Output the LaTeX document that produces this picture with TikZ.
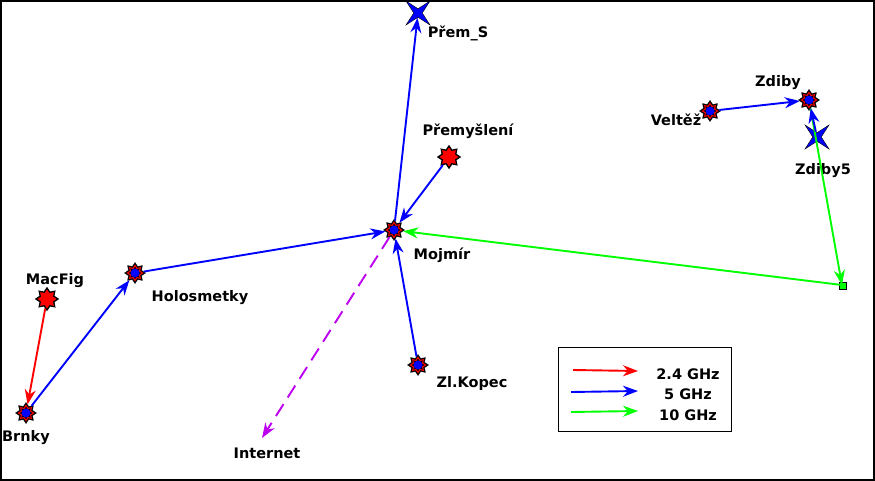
\documentclass[tikz,border=0pt]{standalone}
\usepackage{fontspec}
\setmainfont{DejaVu Sans}
\usetikzlibrary{shapes.geometric,arrows.meta}
% Uzly site
\newcommand{\router}[2]{%
  \node[star, star points=8, star point ratio=1.5, draw=black, fill=black, minimum size=21pt, inner sep=0pt] (#1) at #2 {};
  \node[star, star points=8, star point ratio=1.5, draw=red, line width=1pt, fill=black, minimum size=15pt, inner sep=0pt] at #2 {};
  \fill[blue] #2 circle (4.5pt);}
\newcommand{\vysilac}[2]{%
  \node[star, star points=8, star point ratio=1.5, draw=black, line width=1.3pt, fill=red, minimum size=22pt, inner sep=0pt] (#1) at #2 {};}
\newcommand{\smerovka}[2]{%
  \node[star, star points=4, star point ratio=4, draw=black, fill=blue, minimum size=34pt, inner sep=0pt, rotate=45] (#1) at #2 {};}
\definecolor{fialova}{RGB}{190,0,240}
\tikzset{
  lbl/.style={font=\bfseries\fontsize{14.5}{16}\selectfont},
  link/.style={-{Stealth[length=15pt,width=11pt]}, line width=1.9pt},
}
\begin{document}
\begin{tikzpicture}[x=1pt,y=-1pt]
\useasboundingbox (0,0) rectangle (875,481);
\draw[line width=2pt] (1,1) rectangle (874,480);
% Uzly
\smerovka{prems}{(418,13)}
\vysilac{premysleni}{(449,157)}
\router{mojmir}{(394,230)}
\router{zdiby}{(809,100)}
\router{veltez}{(710,111)}
\smerovka{zdibyp}{(817,137)}
\vysilac{macfig}{(47,299)}
\router{holos}{(135,273)}
\router{brnky}{(26,413)}
\router{zlkopec}{(418,365)}
\coordinate (bod) at (842,285);
\coordinate (internet) at (262,438);
\draw[black, line width=1pt, fill=green] (839,282) rectangle (846,289);
% Popisky
\node[lbl] at (458,33) {Přem\_S};
\node[lbl] at (468,131) {Přemyšlení};
\node[lbl] at (442,255) {Mojmír};
\node[lbl] at (778,83) {Zdiby};
\node[lbl] at (676,120) {Veltěž};
\node[lbl] at (823,171) {Zdiby5};
\node[lbl] at (55,281) {MacFig};
\node[lbl] at (200,298) {Holosmetky};
\node[lbl] at (26,438) {Brnky};
\node[lbl] at (472,383) {Zl.Kopec};
\node[lbl] at (267,453) {Internet};
% Spoje
\draw[link, blue] (mojmir) -- (prems);
\draw[link, blue] (premysleni) -- (mojmir);
\draw[link, blue] (holos) -- (mojmir);
\draw[link, blue] (zlkopec) -- (mojmir);
\draw[link, green] (bod) -- (mojmir);
\draw[link, green] (zdiby) -- (bod);
\draw[link, blue] (veltez) -- (zdiby);
\draw[link, blue] (zdibyp) -- (zdiby);
\draw[link, blue] (brnky) -- (holos);
\draw[link, red] (macfig) -- (brnky);
\draw[link, fialova, dash pattern=on 14pt off 8pt] (mojmir) -- (internet);
% Legenda
\draw[line width=1pt] (558,347) rectangle (731,431);
\coordinate (l1a) at (573,370); \coordinate (l1b) at (638,371);
\coordinate (l2a) at (571,392); \coordinate (l2b) at (638,391);
\coordinate (l3a) at (571,412); \coordinate (l3b) at (638,411);
\draw[link, red] (l1a) -- (l1b);
\draw[link, blue] (l2a) -- (l2b);
\draw[link, green] (l3a) -- (l3b);
\node[lbl] at (688,374) {2.4 GHz};
\node[lbl] at (688,394) {5 GHz};
\node[lbl] at (688,415) {10 GHz};
\end{tikzpicture}
\end{document}
